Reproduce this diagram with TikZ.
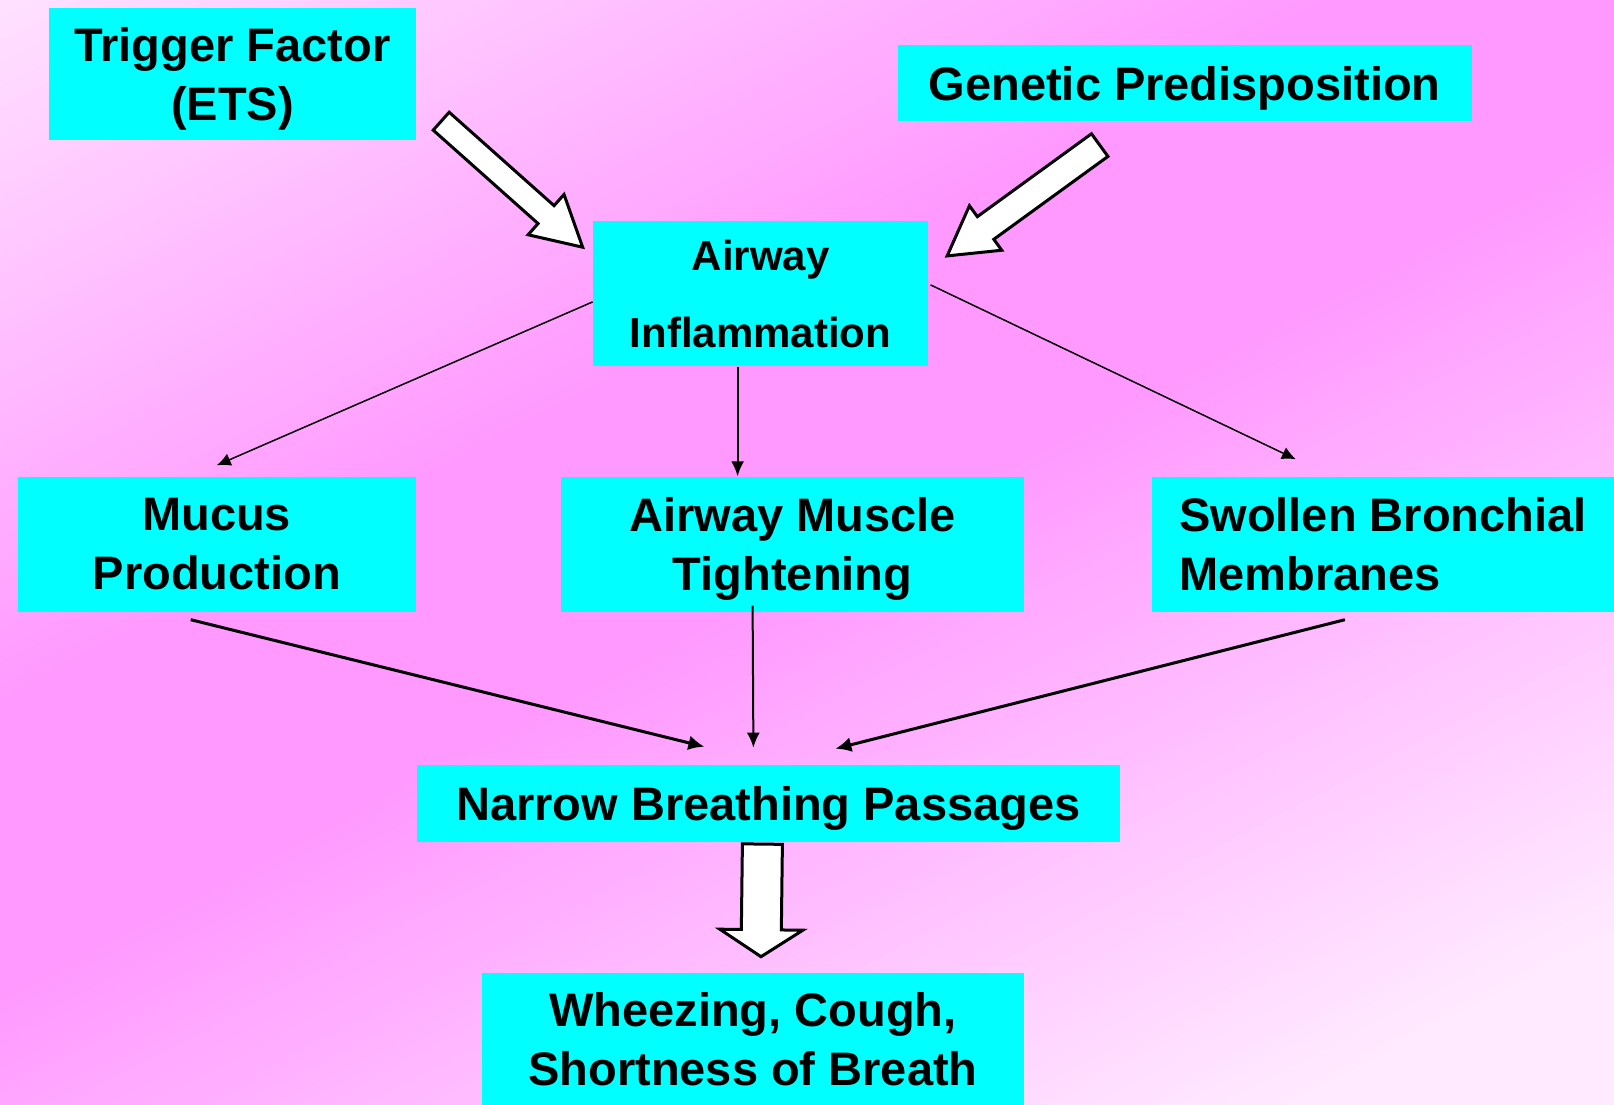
\documentclass[tikz,border=0pt]{standalone}
\usepackage{fontspec}
\setmainfont{Liberation Sans}
\usetikzlibrary{calc,arrows.meta}

\definecolor{boxcyan}{RGB}{0,255,255}
\definecolor{bgpale}{RGB}{255,224,255}
\definecolor{bgpink}{RGB}{255,153,255}
\definecolor{bglight}{RGB}{255,234,255}

\newcommand{\fatarrow}[5]{%
  \coordinate (fabase) at ($(#2)!#5!(#1)$);
  \draw[fat] ($(#1)!#3!90:(#2)$) -- ($(fabase)!#3!90:(#2)$) -- ($(fabase)!#4!90:(#2)$)
    -- (#2) -- ($(fabase)!#4!-90:(#2)$) -- ($(fabase)!#3!-90:(#2)$)
    -- ($(#1)!#3!-90:(#2)$) -- cycle;}

\begin{document}
\begin{tikzpicture}[x=1pt,y=-1pt,
  box/.style={fill=boxcyan,inner sep=0pt,text depth=0pt,align=center,
    font=\fontsize{47}{59}\selectfont\bfseries},
  fat/.style={draw=black,fill=white,line width=3pt,line join=miter},
  thin/.style={line width=1.5pt,-{Latex[length=14pt,width=13pt]}},
  mid/.style={line width=2pt,-{Latex[length=15pt,width=13pt]}},
  thick/.style={line width=3pt,-{Latex[length=16pt,width=15pt]}}]
\useasboundingbox (0,0) rectangle (1614,1105);
\begin{scope}
\clip (0,0) rectangle (1614,1105);
\foreach \s in {-1000,-990,...,1100}{
  \pgfmathsetmacro\p{\s<-180 ? max(0,100-(-175-\s)/6.16) : (\s>80 ? max(0,100-(\s-75)/7) : 100)}
  \ifnum\s<0 \colorlet{bgstrip}{bgpink!\p!bgpale}\else\colorlet{bgstrip}{bgpink!\p!bglight}\fi
  \fill[bgstrip,shift={(807,475)},rotate=-62.2] (\s,-1600) rectangle (\s+11,1600);
}
\end{scope}

\node[box,minimum width=367pt,minimum height=132pt] (trigger) at (232.5,74) {Trigger Factor\\(ETS)};
\node[box,minimum width=574pt,minimum height=76pt] (genetic) at (1184.7,83.4) {Genetic Predisposition};
\node[box,minimum width=335.5pt,minimum height=145pt,font=\fontsize{42}{77}\selectfont\bfseries] (inflam) at (760.6,293.9) {Airway\\Inflammation};
\node[box,minimum width=398pt,minimum height=135pt] (mucus) at (216.7,544) {Mucus\\Production};
\node[box,minimum width=463pt,minimum height=135pt] (muscle) at (792.6,544) {Airway Muscle\\Tightening};
\node[box,minimum width=462pt,minimum height=135pt,align=left] (swollen) at (1382.9,544) {Swollen Bronchial\\Membranes};
\node[box,minimum width=703pt,minimum height=77pt] (narrow) at (768.4,803.4) {Narrow Breathing Passages};
\node[box,minimum width=542.5pt,minimum height=132pt] (wheeze) at (753,1038.9) {Wheezing, Cough,\\Shortness of Breath};

\coordinate (trigtail) at ($(trigger.south east)+(25,-19)$);
\coordinate (trigtip) at ($(inflam.north west)+(-10,26)$);
\coordinate (gentail) at ($(genetic.south)+(-85,23.5)$);
\coordinate (gentip) at ($(inflam.north east)+(18.6,34.7)$);
\coordinate (narrtail) at ($(narrow.south)+(-6,2)$);
\coordinate (narrtip) at ($(wheeze.north)+(8,-16)$);
\fatarrow{trigtail}{trigtip}{12pt}{27pt}{49pt}
\fatarrow{gentail}{gentip}{14pt}{27.5pt}{47.5pt}
\fatarrow{narrtail}{narrtip}{20pt}{41.5pt}{27pt}

\draw[thin] ($(inflam.west)+(0,8)$) -- ($(mucus.north)+(0,-11)$);
\draw[mid] ($(inflam.south)+(-23,0)$) -- ($(muscle.north)+(-55,0)$);
\draw[thin] ($(inflam.east)+(2,-9)$) -- ($(swollen.north)+(-87,-17)$);
\draw[thick] ($(mucus.south)+(-26,8)$) -- ($(narrow.north)+(-64,-18)$);
\draw[mid] ($(muscle.south)+(-40,-6)$) -- ($(narrow.north)+(-15,-17)$);
\draw[thick] ($(swollen.south)+(-38,8)$) -- ($(narrow.north)+(67,-16)$);
\end{tikzpicture}
\end{document}
